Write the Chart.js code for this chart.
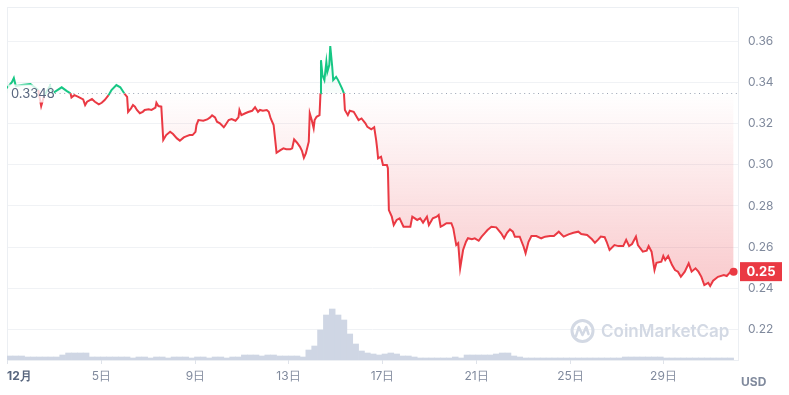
<!DOCTYPE html>
<html>
<head>
<meta charset="utf-8">
<script src="https://cdn.jsdelivr.net/npm/chart.js@4.4.1/dist/chart.umd.min.js"></script>
<style>
  html, body { margin: 0; padding: 0; background: #fff; }
  #wrap { width: 789px; height: 395px; position: relative; }
</style>
</head>
<body>
<div id="wrap"><canvas id="priceChart"></canvas></div>
<script>
// hours since 12月1日 00:00
const hours = [0,5,7,9,15,24,32,35,38,44, 47,56,61,65,66,69,73,78,80,82,
  87,90,94,97,100,104,107,112,116,120, 123,124,127,129,131,133,136,139,141,145,
  148,152,153,155,158,160,163,167,170,174, 177,181,184,187,190,193,194,196,201,205,
  208,210,213,215,218,222,223,227,230,234, 237,238,240,244,247,251,254,257,259,262,
  266,268,270,273,275,276,280,283,286,290, 292,294,297,300,302,304,306,309,310,312,
  314,315,317,320,321,321.5,323,325,327,328, 330,331,333,334,337,339,343,345,346,349,
  351,355,358,360,363,367,369,373,376,378, 379,380,383,385,389,390,391,394,396,399,
  402,406,413,415,420,423,426,430,432,436, 440,442,444,447,450,455,457,460,462,464,
  467,470,472,476,479,483,486,489,492,496, 501,506,509,512,515,518,520,525,529,531,
  534,537,542,547,551,556,560,565,570,575, 580,585,588,594,599,602,605,608,612,614,
  617,622,626,631,634,637,640,644,646,651, 655,657,660,663,665,670,672,674,677,681,
  684,687,690,694,698,701,705,708,711,714, 718,720,723,728,734,737,741,744];

const prices = [.3372,.3401,.3421,.3382,.3387,.3392,.3363,.3285,.3334,.3382,
  .3348,.3376,.3359,.3347,.3327,.3338,.3330,.3317,.3290,.3306,
  .3319,.3306,.3293,.3301,.3314,.3338,.3363,.3387,.3376,.3347,
  .3330,.3257,.3274,.3290,.3282,.3266,.3250,.3257,.3266,.3269,
  .3266,.3277,.3301,.3285,.3282,.3120,.3144,.3160,.3149,.3128,
  .3117,.3133,.3139,.3144,.3144,.3160,.3193,.3217,.3214,.3220,
  .3230,.3240,.3230,.3209,.3201,.3182,.3188,.3217,.3222,.3214,
  .3230,.3266,.3241,.3250,.3256,.3262,.3279,.3257,.3266,.3262,
  .3266,.3257,.3225,.3193,.3104,.3058,.3071,.3080,.3075,.3075,
  .3080,.3123,.3107,.3087,.3068,.3034,.3055,.3112,.3250,.3217,
  .3177,.3217,.3233,.3241,.3347,.3508,.3435,.3411,.3500,.3451,
  .3484,.3576,.3476,.3411,.3427,.3411,.3371,.3347,.3266,.3241,
  .3262,.3257,.3233,.3217,.3225,.3201,.3184,.3172,.3182,.3120,
  .3080,.3031,.3039,.2999,.2999,.2983,.2780,.2748,.2707,.2732,
  .2740,.2699,.2699,.2748,.2732,.2740,.2719,.2748,.2707,.2740,
  .2748,.2756,.2699,.2707,.2716,.2716,.2691,.2610,.2619,.2497,
  .2586,.2626,.2643,.2638,.2643,.2631,.2651,.2667,.2683,.2699,
  .2696,.2667,.2643,.2670,.2686,.2675,.2651,.2651,.2602,.2570,
  .2626,.2654,.2654,.2643,.2651,.2654,.2654,.2675,.2651,.2662,
  .2670,.2675,.2664,.2659,.2638,.2621,.2635,.2651,.2648,.2626,
  .2586,.2610,.2605,.2605,.2635,.2605,.2615,.2651,.2610,.2578,
  .2583,.2605,.2578,.2489,.2524,.2529,.2557,.2537,.2557,.2513,
  .2489,.2481,.2456,.2481,.2521,.2481,.2497,.2481,.2456,.2416,
  .2427,.2411,.2437,.2456,.2465,.2460,.2481,.2481];

// volume per 6 hours (M USD)
const volume = [4,4,4,3, 3,3,3,3,3, 5,7,7,7,7,
  3,3,3,3,3,3,3,2,3,
  3,2,3,3,2,3,3,3,2,3,3,2,3,3,2,3,3,
  5,5,5,4,5,5,4,4,4,4, 3,
  10,14,30,45,51,45,40,26,16,9,7,6,
  5,6,7,6,4,4,3,
  2,2,2,2,2,2,3,2,
  5,5,5,5,5,6,7,7,4,3,
  2,2,2,2,2,2,2,2,2,2,2,2,2,2,2,2,2,
  3,3,3,3,3,3,3,
  2,2,2,2,2,2,2,2,2,2,2,2];

const baseline = 0.3348;
const priceTicks = [0.22, 0.24, 0.26, 0.28, 0.30, 0.32, 0.34, 0.36];
const dayTicks = [0, 96, 192, 288, 384, 480, 576, 672];
const dayLabels = ['12月', '5日', '9日', '13日', '17日', '21日', '25日', '29日'];

const RED = '#ea3943';
const GREEN = '#16c784';
const GRAY = '#808a9d';

function fillGradient(ctx) {
    const chart = ctx.chart;
    const area = chart.chartArea;
    if (!area) return 'rgba(234,57,67,0.1)';
    const y = chart.scales.y;
    const h = area.bottom - area.top;
    const f = (y.getPixelForValue(baseline) - area.top) / h;
    const f2 = (y.getPixelForValue(0.24) - area.top) / h;
    const g = chart.ctx.createLinearGradient(0, area.top, 0, area.bottom);
    g.addColorStop(0, 'rgba(22,199,132,0.12)');
    g.addColorStop(f, 'rgba(22,199,132,0.03)');
    g.addColorStop(f, 'rgba(234,57,67,0.0)');
    g.addColorStop(f2, 'rgba(234,57,67,0.27)');
    g.addColorStop(1, 'rgba(234,57,67,0.3)');
    return g;
}

const overlay = {
    id: 'overlay',
    beforeDatasetsDraw(chart) {
        const c = chart.ctx;
        const a = chart.chartArea;
        c.save();
        // frame
        c.strokeStyle = '#eceff3';
        c.lineWidth = 1;
        c.strokeRect(a.left + 0.5, a.top + 0.5, a.right - a.left, a.bottom - a.top);
        // watermark
        c.strokeStyle = '#d3d9e4';
        c.lineWidth = 3;
        c.beginPath();
        c.arc(582.5, 331, 10.5, 0, Math.PI * 2);
        c.stroke();
        c.lineWidth = 2.5;
        c.lineJoin = 'round';
        c.lineCap = 'round';
        c.beginPath();
        c.moveTo(576, 336);
        c.lineTo(578.8, 327);
        c.lineTo(582.5, 335);
        c.lineTo(586.2, 327);
        c.lineTo(588.5, 334);
        c.stroke();
        c.fillStyle = '#d3d9e4';
        c.font = '600 17px Inter';
        c.textBaseline = 'middle';
        c.textAlign = 'left';
        c.fillText('CoinMarketCap', 601, 332);
        c.restore();
    },
    afterDatasetsDraw(chart) {
        const c = chart.ctx;
        const a = chart.chartArea;
        const x = chart.scales.x;
        const y = chart.scales.y;
        const by = Math.round(y.getPixelForValue(baseline)) + 0.5;
        c.save();
        // dotted baseline
        c.strokeStyle = '#9aa3b3';
        c.lineWidth = 1;
        c.setLineDash([1, 3.6]);
        c.beginPath();
        c.moveTo(55, by);
        c.lineTo(a.right, by);
        c.stroke();
        c.setLineDash([]);
        // baseline label
        c.fillStyle = 'rgba(255,255,255,0.78)';
        c.fillRect(a.left + 1, by - 9, 46, 18);
        c.fillStyle = '#58667e';
        c.font = '13px Inter';
        c.textBaseline = 'middle';
        c.textAlign = 'left';
        c.fillText(baseline.toFixed(4), 11, by + 1);
        // last point
        const last = prices[prices.length - 1];
        const lx = x.getPixelForValue(hours[hours.length - 1]);
        const ly = y.getPixelForValue(last);
        c.fillStyle = RED;
        c.beginPath();
        c.arc(lx, ly, 4, 0, Math.PI * 2);
        c.fill();
        c.fillRect(a.right + 2, ly - 9.5, 42, 19);
        c.fillStyle = '#fff';
        c.font = 'bold 13px Inter';
        c.textAlign = 'center';
        c.fillText(last.toFixed(2), a.right + 23, ly + 0.5);
        c.restore();
    },
    afterDraw(chart) {
        const c = chart.ctx;
        const a = chart.chartArea;
        const x = chart.scales.x;
        c.save();
        c.strokeStyle = '#dfe3ea';
        c.lineWidth = 1;
        c.textBaseline = 'middle';
        dayTicks.forEach((t, i) => {
            const px = Math.round(x.getPixelForValue(t)) + 0.5;
            c.beginPath();
            c.moveTo(px, a.bottom);
            c.lineTo(px, a.bottom + 4);
            c.stroke();
            if (i === 0) {
                c.fillStyle = '#58667e';
                c.font = 'bold 12px Inter';
                c.textAlign = 'left';
                c.fillText(dayLabels[i], px - 0.5, 376);
            } else {
                c.fillStyle = GRAY;
                c.font = '12px Inter';
                c.textAlign = 'center';
                c.fillText(dayLabels[i], px, 376);
            }
        });
        c.fillStyle = GRAY;
        c.font = 'bold 12px Inter';
        c.textAlign = 'left';
        c.fillText('USD', 741, 382);
        c.restore();
    }
};

new Chart(document.getElementById('priceChart'), {
    data: {
        datasets: [{
            type: 'line',
            data: hours.map((h, i) => ({ x: h, y: prices[i] })),
            yAxisID: 'y',
            order: 0,
            borderWidth: 2,
            pointRadius: 0,
            tension: 0,
            borderColor: RED,
            backgroundColor: fillGradient,
            fill: { target: { value: baseline } },
            segment: {
                borderColor: ctx => ((ctx.p0.parsed.y + ctx.p1.parsed.y) / 2 > baseline ? GREEN : RED)
            }
        }, {
            type: 'bar',
            data: volume.map((v, i) => ({ x: i * 6 + 3, y: v })),
            yAxisID: 'v',
            order: 1,
            backgroundColor: '#cfd6e4',
            barPercentage: 1,
            categoryPercentage: 1
        }]
    },
    options: {
        responsive: true,
        maintainAspectRatio: false,
        animation: false,
        layout: { padding: { left: 7, top: 7, right: 0, bottom: 0 } },
        plugins: { legend: { display: false }, tooltip: { enabled: false } },
        scales: {
            x: {
                type: 'linear',
                offset: false,
                min: 0,
                max: 748.5,
                ticks: { display: false },
                grid: { display: false, offset: false },
                border: { display: false },
                afterFit: s => { s.height = 35; s.paddingLeft = 0; s.paddingRight = 0; }
            },
            y: {
                position: 'right',
                min: 0.2052,
                max: 0.3766,
                afterBuildTicks: s => { s.ticks = priceTicks.map(v => ({ value: v })); },
                ticks: {
                    color: GRAY,
                    font: { family: 'Inter', size: 12 },
                    padding: 10,
                    callback: v => v.toFixed(2)
                },
                grid: { color: '#f0f2f5', drawTicks: false },
                border: { display: false },
                afterFit: s => { s.width = 51; s.paddingTop = 0; s.paddingBottom = 0; }
            },
            v: {
                display: false,
                min: 0,
                max: 353
            }
        }
    },
    plugins: [overlay]
});
</script>
</body>
</html>
